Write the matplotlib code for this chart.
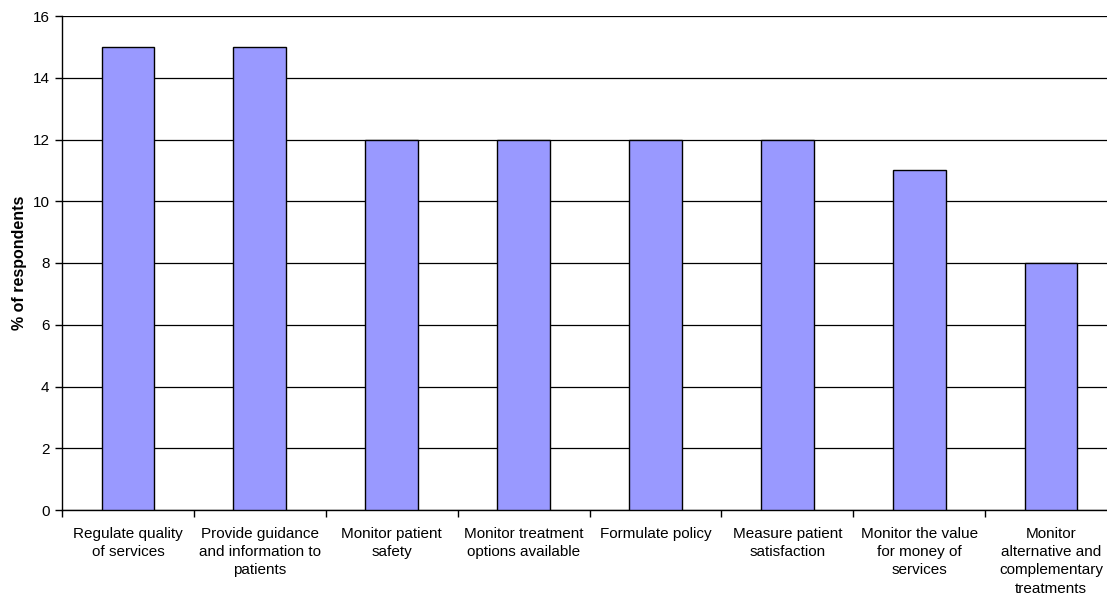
import matplotlib
matplotlib.use("Agg")
from matplotlib import pyplot as plt
import numpy as np

plt.rcParams['font.family'] = ['Liberation Sans', 'DejaVu Sans']

# survey categories and share of respondents (%)
labels = ["Regulate quality\nof services",
          "Provide guidance\nand information to\npatients",
          "Monitor patient\nsafety",
          "Monitor treatment\noptions available",
          "Formulate policy",
          "Measure patient\nsatisfaction",
          "Monitor the value\nfor money of\nservices",
          "Monitor\nalternative and\ncomplementary\ntreatments"]
values = [15, 15, 12, 12, 12, 12, 11, 8]
yticks = [0, 2, 4, 6, 8, 10, 12, 14, 16]

fig = plt.figure(figsize=(11.07, 5.96), dpi=100)
ax = fig.add_axes([62/1107, 86/596, 1055/1107, 494/596])

x = np.arange(len(values))
ax.bar(x, values, width=0.4, color='#9999ff', edgecolor='black', linewidth=1, zorder=3)

ax.set_xlim(-0.5, len(values) - 0.5)
ax.set_ylim(0, 16)
ax.set_yticks(yticks)
ax.yaxis.grid(True, color='black', linewidth=0.9, zorder=0)
ax.set_axisbelow(True)

ax.set_xticks(x)
ax.set_xticklabels(labels, fontsize=11, linespacing=1.4)
ax.set_xticks(np.arange(-0.5, len(values), 1), minor=True)
ax.tick_params(axis='x', which='major', length=0, pad=12)
ax.tick_params(axis='x', which='minor', length=5, width=1, direction='out')
ax.tick_params(axis='y', length=5, width=1, direction='out', labelsize=11, pad=4)

ax.set_ylabel("% of respondents", fontsize=11.5, fontweight='bold', labelpad=4)

ax.spines['right'].set_visible(False)
ax.spines['top'].set_visible(False)
for s in ['left', 'bottom']:
    ax.spines[s].set_linewidth(1)

fig.savefig("out.png", dpi=100)
